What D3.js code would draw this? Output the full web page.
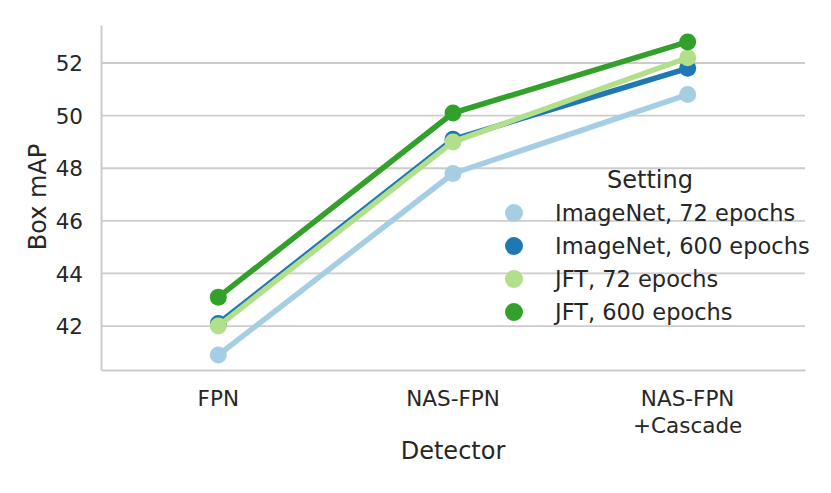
<!DOCTYPE html>
<html>
<head>
<meta charset="utf-8">
<script src="https://cdn.jsdelivr.net/npm/d3@7"></script>
<style>
  body { margin: 0; background: #fff; }
  text { font-family: "DejaVu Sans", sans-serif; fill: #262626; }
</style>
</head>
<body>
<div></div>
<script>
const width = 831;
const height = 493;

// data
const detectors = ['FPN', 'NAS-FPN', 'NAS-FPN\n+Cascade'];
const settings = ['ImageNet, 72 epochs', 'ImageNet, 600 epochs', 'JFT, 72 epochs', 'JFT, 600 epochs'];
const imagenet72 = [40.9, 47.8, 50.8];
const imagenet600 = [42.1, 49.1, 51.8];
const jft72 = [42.0, 49.0, 52.2];
const jft600 = [43.1, 50.1, 52.8];
const yTicks = [42, 44, 46, 48, 50, 52];
const colors = ['#a6cee3', '#1f78b4', '#b2df8a', '#33a02c'];

const series = [imagenet72, imagenet600, jft72, jft600].map((vals, i) => ({
  name: settings[i], color: colors[i], values: vals
}));

const margin = {left: 101, right: 26, top: 25, bottom: 123};

const svg = d3.select('div').append('svg').attr('width', width).attr('height', height);

const x = d3.scaleLinear().domain([-0.5, 2.5]).range([margin.left, width - margin.right]);
const y = d3.scaleLinear().domain([40.33, 53.445]).range([height - margin.bottom, margin.top]);

// grid
svg.append('g').selectAll('line').data(yTicks).enter().append('line')
  .attr('x1', margin.left).attr('x2', width - margin.right)
  .attr('y1', d => y(d)).attr('y2', d => y(d))
  .attr('stroke', '#cccccc').attr('stroke-width', 1.8);

// y axis
const yAxis = svg.append('g').attr('transform', 'translate(' + margin.left + ',0)')
  .call(d3.axisLeft(y).tickValues(yTicks).tickSize(0).tickPadding(18));
yAxis.select('.domain').attr('stroke', '#cccccc').attr('stroke-width', 2);
yAxis.selectAll('text').style('font-size', '21.5px').attr('fill', '#262626').attr('dy', '0.36em');

// x axis
const xAxis = svg.append('g').attr('transform', 'translate(0,' + (height - margin.bottom) + ')')
  .call(d3.axisBottom(x).tickValues([0, 1, 2]).tickSize(0).tickFormat(''));
xAxis.select('.domain').attr('stroke', '#cccccc').attr('stroke-width', 2);

svg.append('g').selectAll('text').data(detectors).enter().append('text')
  .attr('text-anchor', 'middle')
  .attr('y', height - margin.bottom + 36)
  .style('font-size', '21.5px')
  .each(function(d, i) {
    const t = d3.select(this);
    d.split('\n').forEach((line, j) => {
      t.append('tspan').attr('x', x(i)).attr('dy', j === 0 ? 0 : 26.5).text(line);
    });
  });

// axis titles
svg.append('text').attr('x', x(1)).attr('y', 459).attr('text-anchor', 'middle')
  .style('font-size', '24px').text('Detector');
svg.append('text').attr('transform', 'translate(46,197) rotate(-90)').attr('text-anchor', 'middle')
  .style('font-size', '24px').text('Box mAP');

// lines and points
const line = d3.line().x((d, i) => x(i)).y(d => y(d));
const g = svg.append('g');
series.forEach(s => {
  g.append('path').datum(s.values).attr('d', line)
    .attr('fill', 'none').attr('stroke', s.color).attr('stroke-width', 5.5)
    .attr('stroke-linejoin', 'round');
  g.selectAll(null).data(s.values).enter().append('circle')
    .attr('cx', (d, i) => x(i)).attr('cy', d => y(d)).attr('r', 8.5)
    .attr('fill', s.color);
});

// legend
const legend = svg.append('g');
legend.append('text').attr('x', 650).attr('y', 188).attr('text-anchor', 'middle')
  .style('font-size', '24px').text('Setting');
const rows = legend.selectAll('g.row').data(series).enter().append('g').attr('class', 'row')
  .attr('transform', (d, i) => 'translate(0,' + (213 + i * 33) + ')');
rows.append('circle').attr('cx', 514).attr('cy', 0).attr('r', 9).attr('fill', d => d.color);
rows.append('text').attr('x', 555).attr('y', 0).attr('dy', '0.36em')
  .style('font-size', '22.5px').text(d => d.name);
</script>
</body>
</html>
